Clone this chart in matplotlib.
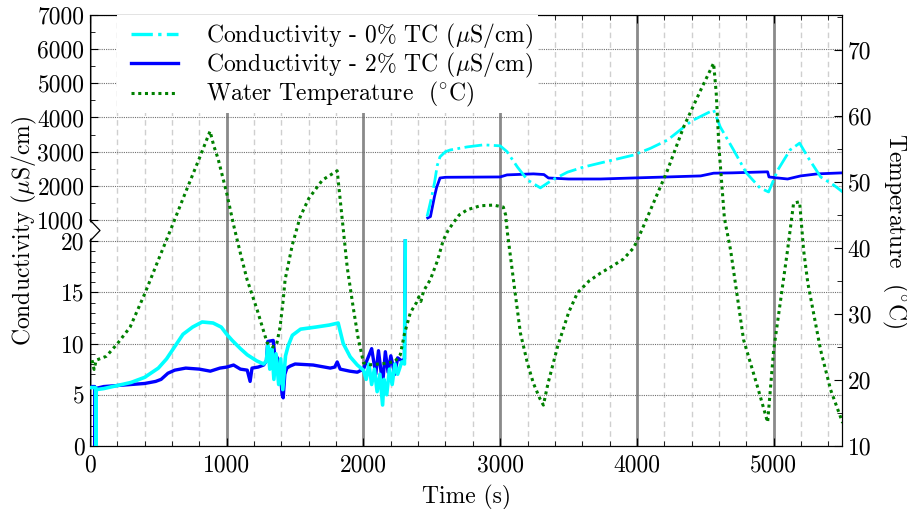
import numpy as np
import matplotlib.pyplot as plt
from matplotlib.ticker import FixedLocator, MultipleLocator, StrMethodFormatter
from matplotlib.transforms import blended_transform_factory
from matplotlib.patches import Polygon, Rectangle

plt.rcParams['font.family'] = 'serif'
plt.rcParams['font.serif'] = ['cmr10', 'DejaVu Serif']
plt.rcParams['mathtext.fontset'] = 'cm'
plt.rcParams['axes.formatter.use_mathtext'] = True
plt.rcParams['font.size'] = 17

# water temperature (s, degC)
t_temp = [15, 30, 45, 120, 200, 293, 403, 500, 600, 700, 800, 878, 905, 937, 1000,
          1050, 1100, 1149, 1223, 1296, 1340, 1365, 1390, 1413, 1427, 1480, 1537, 1600,
          1700, 1808, 1830, 1881, 1925, 1960, 2000, 2050, 2150, 2230, 2269, 2300, 2343,
          2390, 2405, 2420, 2440, 2489, 2540, 2584, 2620, 2657, 2700, 2760, 2855, 2950,
          3023, 3040, 3053, 3100, 3148, 3200, 3243, 3290, 3316, 3350, 3419, 3500, 3565,
          3650, 3734, 3800, 3900, 3975, 4004, 4100, 4224, 4341, 4466, 4561, 4580, 4600,
          4640, 4685, 4720, 4780, 4883, 4956, 5000, 5051, 5102, 5146, 5190, 5219, 5250,
          5344, 5417, 5505]
temp = [23.0, 21.6, 23.0, 23.6, 25.5, 28.0, 33.2, 38.2, 43.3, 48.5, 53.6, 57.7, 55.5,
        53.5, 48.3, 43.5, 39.2, 35.2, 30.6, 25.6, 25.0, 25.4, 28.0, 32.1, 35.2, 40.5,
        44.7, 47.5, 50.3, 51.7, 47.3, 37.1, 31.0, 26.5, 22.6, 22.3, 22.5, 22.8, 23.8,
        27.0, 30.2, 31.8, 32.6, 31.9, 33.5, 35.2, 38.0, 41.2, 42.7, 43.8, 45.0, 45.8,
        46.4, 46.5, 46.2, 45.0, 42.3, 34.7, 27.1, 22.5, 19.5, 17.2, 16.2, 19.5, 25.0,
        30.2, 33.2, 35.0, 36.2, 37.0, 38.3, 40.0, 41.2, 45.8, 51.8, 58.3, 63.9, 68.0,
        63.5, 55.3, 44.5, 39.7, 34.7, 26.1, 18.9, 13.6, 24.5, 32.1, 39.7, 46.8, 47.0,
        39.7, 34.7, 24.5, 18.5, 13.5]

# conductivity 2% TC, low range (uS/cm)
t_b_low = [0, 34, 36, 38, 100, 200, 300, 400, 480, 520, 570, 620, 700, 800, 880, 950,
           1000, 1050, 1100, 1150, 1171, 1185, 1230, 1270, 1290, 1300, 1340, 1350, 1370,
           1390, 1405, 1413, 1425, 1440, 1464, 1500, 1632, 1757, 1790, 1808, 1830, 1900,
           1955, 2000, 2030, 2060, 2090, 2110, 2140, 2160, 2180, 2200, 2230, 2250, 2280,
           2300, 2306]
c_b_low = [5.8, 5.8, 0.0, 5.6, 5.8, 5.9, 6.0, 6.1, 6.3, 6.5, 7.1, 7.4, 7.6, 7.5, 7.3, 7.6,
           7.7, 7.9, 7.5, 7.4, 6.3, 7.6, 7.7, 7.9, 8.3, 10.2, 10.3, 9.0, 8.6, 7.5, 5.0, 4.7,
           7.0, 7.6, 7.8, 8.0, 7.9, 7.6, 7.7, 8.2, 7.5, 7.3, 7.2, 7.5, 8.5, 9.5, 7.0, 9.3,
           6.0, 9.2, 7.2, 8.8, 7.0, 8.6, 8.3, 8.5, 20.0]
# conductivity 0% TC, low range
t_c_low = [0, 41, 43, 45, 100, 200, 300, 400, 500, 560, 620, 680, 750, 820, 900, 960,
           1000, 1040, 1100, 1150, 1220, 1270, 1290, 1300, 1315, 1330, 1345, 1360, 1380,
           1395, 1410, 1430, 1450, 1480, 1540, 1650, 1750, 1815, 1852, 1903, 1955, 2000,
           2020, 2040, 2060, 2080, 2100, 2120, 2140, 2150, 2170, 2190, 2210, 2230, 2250,
           2280, 2300, 2306]
c_c_low = [5.7, 5.7, 0.0, 5.5, 5.6, 5.9, 6.2, 6.7, 7.6, 8.5, 9.7, 10.9, 11.6, 12.1, 12.0,
           11.6, 10.9, 10.3, 9.5, 8.9, 8.3, 8.0, 8.3, 9.8, 7.5, 9.5, 6.5, 9.0, 6.0, 8.5,
           5.5, 8.8, 9.8, 10.8, 11.4, 11.6, 11.8, 12.0, 10.0, 8.7, 7.9, 7.4, 6.5, 8.0, 6.0,
           7.5, 5.3, 7.0, 4.0, 6.5, 5.0, 7.5, 6.0, 8.0, 7.0, 8.2, 8.0, 20.0]

# high range (uS/cm)
t_b_high = [2470, 2490, 2500, 2510, 2520, 2535, 2560, 2600, 3000, 3050, 3243, 3320, 3353,
            3500, 3734, 3975, 4224, 4466, 4561, 4700, 4956, 4966, 5030, 5102, 5197, 5320,
            5505]
c_b_high = [1060, 1100, 1300, 1500, 1700, 1950, 2230, 2250, 2260, 2320, 2350, 2330, 2230,
            2200, 2200, 2230, 2260, 2290, 2370, 2380, 2410, 2260, 2230, 2200, 2290, 2350,
            2380]
t_c_high = [2465, 2480, 2500, 2520, 2540, 2560, 2600, 2635, 2760, 2880, 3000, 3050, 3126,
            3200, 3294, 3380, 3492, 3610, 3734, 3850, 3975, 4100, 4224, 4400, 4561, 4610,
            4707, 4800, 4900, 4963, 5030, 5120, 5190, 5250, 5344, 5440, 5505]
c_c_high = [1100, 1350, 1700, 2100, 2600, 2850, 3000, 3050, 3140, 3200, 3170, 3000, 2550,
            2170, 1940, 2170, 2400, 2550, 2670, 2780, 2900, 3100, 3340, 3900, 4220, 3720,
            3050, 2380, 1940, 1820, 2460, 3050, 3250, 2840, 2260, 2020, 1820]

cond_ticks = [0, 5, 10, 15, 20, 1000, 2000, 3000, 4000, 5000, 6000, 7000]
cond_minor = [v for v in range(1, 20) if v % 5] + [1500, 2500, 3500, 4500, 5500, 6500]

# broken axis: 0-20 linear, 1000-7000 linear, short gap between
GAP = 2.05


def fwd(y):
    y = np.asarray(y, float)
    return np.where(y <= 20, y,
                    np.where(y < 1000, 20 + (y - 20) / 980 * GAP, 20 + GAP + (y - 1000) / 300))


def inv(s):
    s = np.asarray(s, float)
    return np.where(s <= 20, s,
                    np.where(s < 20 + GAP, 20 + (s - 20) / GAP * 980, 1000 + (s - 20 - GAP) * 300))


fig = plt.figure(figsize=(9.07, 5.09), dpi=100)
ax = fig.add_axes([90 / 907, 1 - 446 / 509, 752 / 907, 431 / 509])
ax.set_yscale('function', functions=(fwd, inv))

ax.plot(t_b_low, c_b_low, color='blue', lw=2.4, zorder=2)
ax.plot(t_b_high, c_b_high, color='blue', lw=2.0, zorder=2)
ax.plot(t_c_low, c_c_low, color='cyan', lw=2.6, zorder=3)
ax.plot(t_c_high, c_c_high, color='cyan', lw=2.0, ls='-.', zorder=3)

ax.set_xlim(0, 5500)
ax.set_ylim(0, 7000)
ax.yaxis.set_major_locator(FixedLocator(cond_ticks))
ax.yaxis.set_minor_locator(FixedLocator(cond_minor))
ax.yaxis.set_major_formatter(StrMethodFormatter('{x:.0f}'))
ax.xaxis.set_major_locator(MultipleLocator(1000))
ax.xaxis.set_minor_locator(MultipleLocator(200))
ax.xaxis.set_major_formatter(StrMethodFormatter('{x:.0f}'))

ax.grid(which='major', axis='y', ls=(0, (1, 1)), color='#707070', lw=0.8)
ax.grid(which='major', axis='x', ls='-', color='#8a8a8a', lw=2.0)
ax.grid(which='minor', axis='x', ls=(0, (4, 3)), color='#cfcfcf', lw=1.0)

ax.tick_params(which='both', direction='in', top=True, right=False, labelsize=17)
ax.tick_params(which='major', length=6)
ax.tick_params(which='minor', length=3.5)
ax.tick_params(axis='x', pad=6)
ax.tick_params(axis='y', pad=4)

ax.set_xlabel('Time (s)', fontsize=17, labelpad=6)
ax.set_ylabel('Conductivity ($\\mu$S/cm)', fontsize=17)
ax.yaxis.set_label_coords(-0.068, 0.5)

ax2 = ax.twinx()
ax2.plot(t_temp, temp, color='green', lw=2.2, ls=(0, (1, 1.2)))
ax2.set_ylim(10, 75.3)
ax2.yaxis.set_major_locator(MultipleLocator(10))
ax2.yaxis.set_minor_locator(MultipleLocator(5))
ax2.yaxis.set_major_formatter(StrMethodFormatter('{x:.0f}'))
ax2.tick_params(which='both', direction='in', left=False, right=True, labelsize=17, pad=4)
ax2.tick_params(which='major', length=6)
ax2.tick_params(which='minor', length=3.5)
ax2.spines['left'].set_visible(False)
ax2.set_ylabel('Temperature  ($^{\\circ}$C)', fontsize=17, rotation=270, va='bottom')
ax2.yaxis.set_label_coords(1.05, 0.5)

# break marker on left spine
trans = blended_transform_factory(ax2.transAxes, ax.transData)
ax2.add_patch(Polygon([(-0.003, 1000), (0.0133, 510), (-0.003, 20)], closed=True,
                      fc='white', ec='none', transform=trans, clip_on=False, zorder=6))
ax2.plot([0, 0.0133, 0], [1000, 510, 20], color='black', lw=0.9, transform=trans,
         clip_on=False, zorder=7)

# white box behind the legend, hides the grid there
ax2.add_patch(Rectangle((27 / 752, 1 - 98 / 431), 421 / 752, 98 / 431, fc='white',
                        ec='none', transform=ax2.transAxes, zorder=4.5))

h_c = plt.Line2D([], [], color='cyan', lw=2.4, ls='-.')
h_b = plt.Line2D([], [], color='blue', lw=2.4)
h_g = plt.Line2D([], [], color='green', lw=2.2, ls=(0, (1, 1.2)))
ax2.legend([h_c, h_b, h_g],
           ['Conductivity - 0% TC ($\\mu$S/cm)', 'Conductivity - 2% TC ($\\mu$S/cm)',
            'Water Temperature  ($^{\\circ}$C)'],
           loc='upper left', bbox_to_anchor=(0.0453, 1.0), borderaxespad=0,
           frameon=False, handlelength=2.0, handletextpad=1.15, labelspacing=0.0,
           borderpad=0.3, fontsize=17)

fig.savefig('out.png', dpi=100)
